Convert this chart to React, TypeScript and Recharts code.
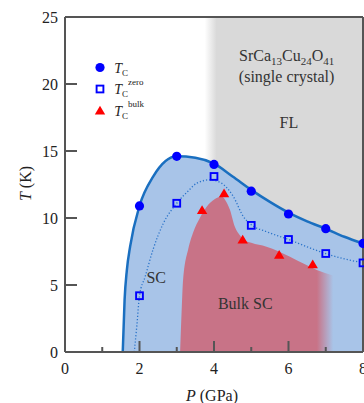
import React from 'react';
import { ComposedChart, XAxis, YAxis, Area, Line, Scatter, Legend, ReferenceDot } from 'recharts';

const W = 364;
const H = 403;
const FONT = '"Liberation Serif", "Times New Roman", serif';
const AXIS = '#555555';
const TXT = '#222222';
const BLUE_FILL = '#a8c4e8';
const BLUE_EDGE = '#1a6fc0';
const RED_FILL = '#c87387';
const GRAY = '#d9d9d9';

// axis ticks
const xTicks = [0, 1, 2, 3, 4, 5, 6, 7, 8];
const xTopTicks = [1, 2, 3, 4, 5, 6, 7];
const yTicks = [0, 5, 10, 15, 20, 25];

// T_C (filled circles)
const tcP = [2, 3, 4, 5, 6, 7, 8];
const tcT = [10.9, 14.6, 14.0, 12.0, 10.3, 9.2, 8.1];
// T_C zero (open squares)
const zeroP = [2, 3, 4, 5, 6, 7, 8];
const zeroT = [4.2, 11.1, 13.1, 9.45, 8.4, 7.35, 6.65];
// T_C bulk (triangles)
const bulkP = [3.68, 4.27, 4.77, 5.75, 6.65];
const bulkT = [10.6, 11.85, 8.4, 7.25, 6.55];

// SC region boundary (solid blue curve)
const scEdgeP = [1.55, 1.6, 1.66, 1.75, 2, 2.37, 3, 3.5, 4, 4.5, 5, 5.5, 6, 6.5, 7, 7.5, 8];
const scEdgeT = [0, 3.9, 6.1, 7.9, 10.9, 13.1, 14.6, 14.5, 14.05, 13.1, 12.1, 11.2, 10.4, 9.75, 9.2, 8.6, 8.1];
// Bulk SC region boundary
const bulkEdgeP = [3.09, 3.13, 3.17, 3.31, 3.45, 3.62, 3.85, 4.07, 4.2, 4.3, 4.43, 4.56, 4.7, 4.79, 5.0, 5.41, 6.04, 6.4, 6.76, 7.2];
const bulkEdgeT = [0, 3, 5.4, 7.7, 9.0, 10.0, 11.0, 11.5, 11.6, 11.35, 10.6, 9.35, 8.7, 8.4, 8.15, 7.86, 7.11, 6.6, 6.12, 5.7];
// dotted guide through T_C zero
const zeroFitP = [1.86, 1.93, 2.0, 2.15, 2.37, 2.64, 3.0, 3.3, 3.54, 3.89, 4.2, 4.52, 4.79, 5.0, 5.41, 6.0, 6.5, 7.0, 7.5, 8.0];
const zeroFitT = [0, 2, 4.2, 5.6, 7.7, 9.6, 11.1, 12.0, 12.6, 12.85, 12.6, 11.6, 10.1, 9.5, 8.98, 8.4, 7.85, 7.34, 6.95, 6.66];
// FL (gray) region
const flP = [3.75, 8];
const flT = [25, 25];

const zip = (ps: number[], ts: number[]) => ps.map((p, i) => ({ p, t: ts[i] }));

const tcData = zip(tcP, tcT);
const zeroData = zip(zeroP, zeroT);
const bulkData = zip(bulkP, bulkT);
const scEdge = zip(scEdgeP, scEdgeT);
const bulkEdge = zip(bulkEdgeP, bulkEdgeT);
const zeroFit = zip(zeroFitP, zeroFitT);
const flData = zip(flP, flT);
const scBase = [
  { p: scEdgeP[0], t: 0 },
  { p: scEdgeP[scEdgeP.length - 1], t: 0 },
];

// annotation anchors (data coordinates, text baseline)
const formulaPos = { p: 5.95, t: 21.7 };
const crystalPos = { p: 5.95, t: 20.15 };
const flPos = { p: 6.01, t: 16.7 };
const scPos = { p: 2.45, t: 5.12 };
const bulkScPos = { p: 4.84, t: 3.19 };

const legendItems = [
  { kind: 'circle', sup: '' },
  { kind: 'square', sup: 'zero' },
  { kind: 'triangle', sup: 'bulk' },
];

const BottomTick = (props: any) => {
  const { x, y, payload } = props;
  const v = payload.value;
  const major = v % 2 === 0;
  return (
    <g>
      <line x1={x} x2={x} y1={y} y2={y - (major ? 11 : 5)} stroke={AXIS} strokeWidth={2} />
      {major && (
        <text x={x} y={y + 21.5} textAnchor="middle" fontSize={16} fill={TXT} fontFamily={FONT}>
          {v}
        </text>
      )}
    </g>
  );
};

const TopTick = (props: any) => {
  const { x, y, payload } = props;
  const major = payload.value % 2 === 0;
  return <line x1={x} x2={x} y1={y} y2={y + (major ? 12 : 5)} stroke={AXIS} strokeWidth={2} />;
};

const LeftTick = (props: any) => {
  const { x, y, payload } = props;
  return (
    <g>
      <line x1={x} x2={x + 12} y1={y} y2={y} stroke={AXIS} strokeWidth={2} />
      <text x={x - 7} y={y + 5.5} textAnchor="end" fontSize={16} fill={TXT} fontFamily={FONT}>
        {payload.value}
      </text>
    </g>
  );
};

const RightTick = (props: any) => {
  const { x, y } = props;
  return <line x1={x} x2={x - 12} y1={y} y2={y} stroke={AXIS} strokeWidth={2} />;
};

const XTitle = (props: any) => {
  const vb = props.viewBox || { x: 65, y: 352, width: 298, height: 51 };
  return (
    <text x={vb.x + vb.width / 2 - 2} y={vb.y + 48.5} textAnchor="middle" fontSize={16} fill={TXT} fontFamily={FONT}>
      <tspan fontStyle="italic">P</tspan> (GPa)
    </text>
  );
};

const YTitle = (props: any) => {
  const vb = props.viewBox || { x: 0, y: 17, width: 65, height: 335 };
  const cx = 31;
  const cy = vb.y + vb.height / 2 - 1;
  return (
    <text x={cx} y={cy} transform={`rotate(-90, ${cx}, ${cy})`} textAnchor="middle" fontSize={16} fill={TXT} fontFamily={FONT}>
      <tspan fontStyle="italic">T</tspan> (K)
    </text>
  );
};

const CircleMark = (props: any) => <circle cx={props.cx} cy={props.cy} r={4.6} fill="#0000ff" />;
const SquareMark = (props: any) => (
  <rect x={props.cx - 3.4} y={props.cy - 3.4} width={6.8} height={6.8} fill="none" stroke="#0000ff" strokeWidth={1.9} />
);
const TriMark = (props: any) => (
  <polygon
    points={`${props.cx},${props.cy - 4.8} ${props.cx - 5.2},${props.cy + 4} ${props.cx + 5.2},${props.cy + 4}`}
    fill="#ff0000"
  />
);

const textShape = (content: React.ReactNode, fill = '#333') => (props: any) => (
  <text x={props.cx} y={props.cy} textAnchor="middle" fontSize={16} fill={fill} fontFamily={FONT}>
    {content}
  </text>
);

const LegendBox = () => (
  <svg width={70} height={68} style={{ display: 'block', overflow: 'visible' }}>
    {legendItems.map((it, i) => {
      const cy = 11.5 + i * 21.5;
      const cx = 12;
      let sym: React.ReactNode = null;
      if (it.kind === 'circle') sym = <circle cx={cx} cy={cy} r={4.6} fill="#0000ff" />;
      else if (it.kind === 'square')
        sym = <rect x={cx - 3.4} y={cy - 3.4} width={6.8} height={6.8} fill="none" stroke="#0000ff" strokeWidth={1.9} />;
      else sym = <polygon points={`${cx},${cy - 4.8} ${cx - 5.2},${cy + 4} ${cx + 5.2},${cy + 4}`} fill="#ff0000" />;
      return (
        <g key={i}>
          {sym}
          <text x={26.3} y={cy + 5} fontSize={14} fill={TXT} fontFamily={FONT}>
            <tspan fontStyle="italic">T</tspan>
            <tspan fontSize={9} dy={3}>C</tspan>
            {it.sup ? <tspan fontSize={9} dy={-12}>{it.sup}</tspan> : null}
          </text>
        </g>
      );
    })}
  </svg>
);

export default function App() {
  return (
    <div style={{ position: 'absolute', left: 0, top: 0, width: W, height: H, background: '#fff' }}>
      <ComposedChart width={W} height={H} margin={{ top: 17, right: 1, bottom: 0, left: 0 }} style={{ fontFamily: FONT }}>
        <defs>
          <linearGradient id="flFade" x1="0" y1="0" x2="1" y2="0">
            <stop offset="0" stopColor={GRAY} stopOpacity={0} />
            <stop offset="0.075" stopColor={GRAY} stopOpacity={1} />
            <stop offset="1" stopColor={GRAY} stopOpacity={1} />
          </linearGradient>
          <linearGradient id="bulkFade" x1="0" y1="0" x2="1" y2="0">
            <stop offset="0" stopColor={RED_FILL} stopOpacity={1} />
            <stop offset="0.893" stopColor={RED_FILL} stopOpacity={1} />
            <stop offset="1" stopColor={RED_FILL} stopOpacity={0} />
          </linearGradient>
        </defs>

        <XAxis
          xAxisId={0}
          dataKey="p"
          type="number"
          domain={[0, 8]}
          ticks={xTicks}
          interval={0}
          height={51}
          tickLine={false}
          tickSize={0}
          tickMargin={0}
          axisLine={{ stroke: AXIS, strokeWidth: 2 }}
          tick={BottomTick}
          label={<XTitle />}
        />
        <XAxis
          xAxisId="top"
          orientation="top"
          mirror
          dataKey="p"
          type="number"
          domain={[0, 8]}
          ticks={xTopTicks}
          interval={0}
          tickLine={false}
          tickSize={0}
          tickMargin={0}
          axisLine={{ stroke: AXIS, strokeWidth: 2 }}
          tick={TopTick}
        />
        <YAxis
          yAxisId={0}
          dataKey="t"
          type="number"
          domain={[0, 25]}
          ticks={yTicks}
          interval={0}
          width={65}
          tickLine={false}
          tickSize={0}
          tickMargin={0}
          axisLine={{ stroke: AXIS, strokeWidth: 2 }}
          tick={LeftTick}
          label={<YTitle />}
        />
        <YAxis
          yAxisId="right"
          orientation="right"
          mirror
          dataKey="t"
          type="number"
          domain={[0, 25]}
          ticks={yTicks}
          interval={0}
          tickLine={false}
          tickSize={0}
          tickMargin={0}
          axisLine={{ stroke: AXIS, strokeWidth: 2 }}
          tick={RightTick}
        />

        <Area
          data={flData}
          dataKey="t"
          type="linear"
          stroke="none"
          fill="url(#flFade)"
          fillOpacity={1}
          isAnimationActive={false}
          legendType="none"
          activeDot={false}
        />
        <Area
          data={scEdge}
          dataKey="t"
          type="monotone"
          stroke={BLUE_EDGE}
          strokeWidth={2.5}
          fill={BLUE_FILL}
          fillOpacity={1}
          isAnimationActive={false}
          legendType="none"
          activeDot={false}
        />
        <Line
          data={scBase}
          dataKey="t"
          type="linear"
          stroke={BLUE_EDGE}
          strokeWidth={2}
          dot={false}
          isAnimationActive={false}
          legendType="none"
          activeDot={false}
        />
        <Area
          data={bulkEdge}
          dataKey="t"
          type="monotone"
          stroke="none"
          fill="url(#bulkFade)"
          fillOpacity={1}
          isAnimationActive={false}
          legendType="none"
          activeDot={false}
        />
        <Line
          data={zeroFit}
          dataKey="t"
          type="monotone"
          stroke="#2a73c9"
          strokeWidth={1.3}
          strokeDasharray="1.2 2"
          dot={false}
          isAnimationActive={false}
          legendType="none"
          activeDot={false}
        />
        <Scatter name="Tc" data={tcData} dataKey="t" shape={CircleMark} isAnimationActive={false} />
        <Scatter name="Tc zero" data={zeroData} dataKey="t" shape={SquareMark} isAnimationActive={false} />
        <Scatter name="Tc bulk" data={bulkData} dataKey="t" shape={TriMark} isAnimationActive={false} />

        <ReferenceDot
          x={formulaPos.p}
          y={formulaPos.t}
          r={1}
          fill="none"
          stroke="none"
          shape={textShape(
            <>
              SrCa<tspan fontSize={11} dy={3.5}>13</tspan>
              <tspan dy={-3.5}>Cu</tspan>
              <tspan fontSize={11} dy={3.5}>24</tspan>
              <tspan dy={-3.5}>O</tspan>
              <tspan fontSize={11} dy={3.5}>41</tspan>
            </>
          )}
        />
        <ReferenceDot x={crystalPos.p} y={crystalPos.t} r={1} fill="none" stroke="none" shape={textShape('(single crystal)')} />
        <ReferenceDot x={flPos.p} y={flPos.t} r={1} fill="none" stroke="none" shape={textShape('FL')} />
        <ReferenceDot x={scPos.p} y={scPos.t} r={1} fill="none" stroke="none" shape={textShape('SC')} />
        <ReferenceDot x={bulkScPos.p} y={bulkScPos.t} r={1} fill="none" stroke="none" shape={textShape('Bulk SC')} />

        <Legend
          layout="vertical"
          align="center"
          verticalAlign="middle"
          wrapperStyle={{ left: 88, top: 56, width: 70, height: 68 }}
          content={() => <LegendBox />}
        />
      </ComposedChart>
    </div>
  );
}
